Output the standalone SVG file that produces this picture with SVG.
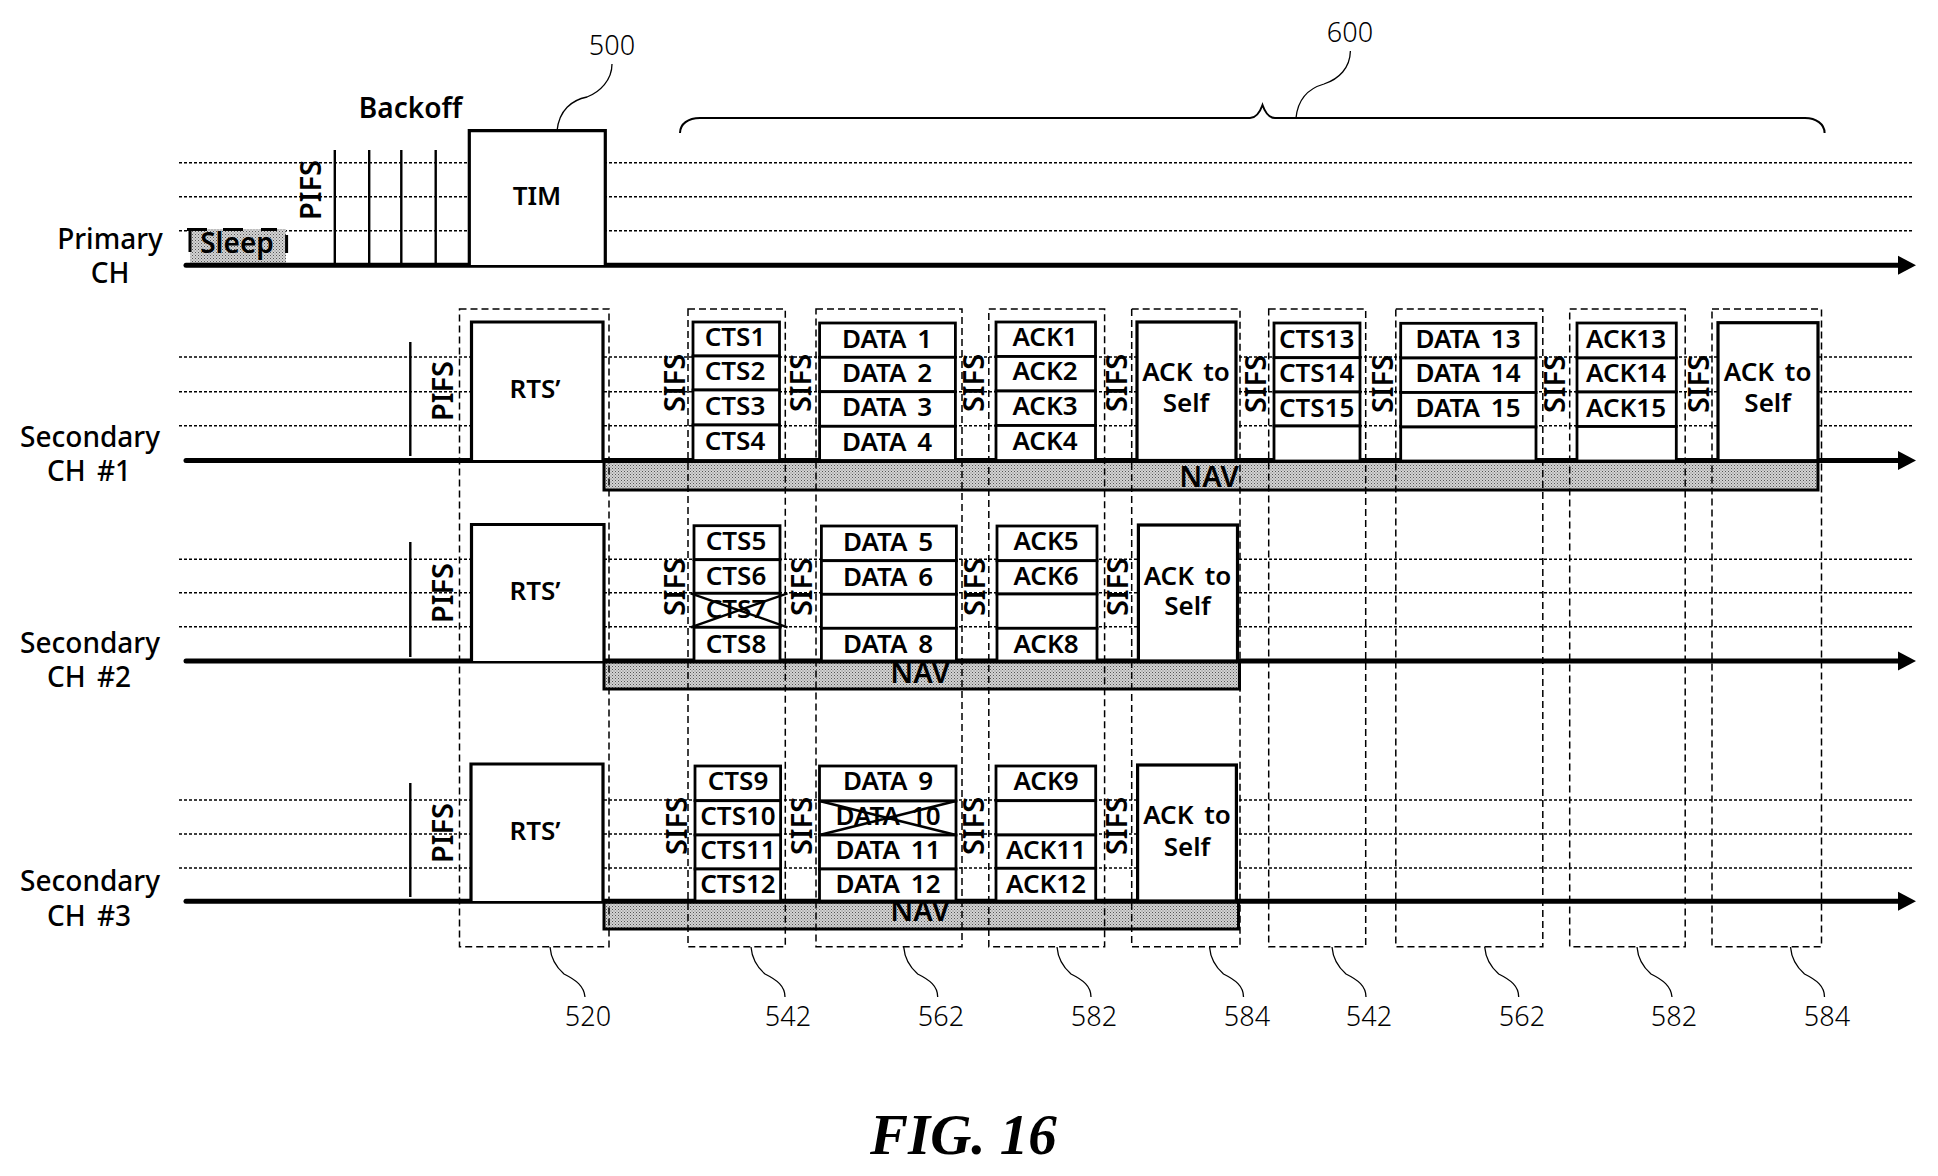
<svg xmlns="http://www.w3.org/2000/svg" width="1938" height="1176" viewBox="0 0 1938 1176">
<style>
text{font-family:"Noto Sans","Open Sans","Liberation Sans",sans-serif;font-size:26px;font-weight:600;fill:#000;text-anchor:middle;word-spacing:4px}
.n{font-size:27px;font-weight:300;word-spacing:0}
.lb{font-size:28px;font-weight:500}
.iv{font-size:29px;word-spacing:0}
.nv{font-size:29px}
.big{font-size:28px}
.fig{font-family:"Liberation Serif",serif;font-size:57px;font-weight:700;font-style:italic;text-anchor:start;word-spacing:0}
.c{fill:#fff;stroke:#000;stroke-width:2.8}
.t{fill:#fff;stroke:#000;stroke-width:3.2}
.dot{stroke:#000;stroke-width:1.5;stroke-dasharray:3 2;fill:none}
.dash{fill:none;stroke:#000;stroke-width:1.5;stroke-dasharray:7 4}
.ax{stroke:#000;stroke-width:5;fill:none;stroke-linecap:round}
.tick{stroke:#000;stroke-width:2.4}
.lead{fill:none;stroke:#000;stroke-width:1.3}
.nav{fill:url(#st);stroke:#000;stroke-width:3}
.x{stroke:#000;stroke-width:2.4}
</style>
<defs>
<pattern id="st" width="3" height="3" patternUnits="userSpaceOnUse"><rect width="3" height="3" fill="#d4d4d4"/><rect width="1" height="1" fill="#555"/><rect x="1.5" y="1.5" width="1" height="1" fill="#777"/></pattern>
<marker id="ah" markerUnits="userSpaceOnUse" markerWidth="20" markerHeight="20" refX="1" refY="10" orient="auto"><path d="M0 0.5L18 10L0 19.5Z" fill="#000"/></marker>
</defs>
<rect width="1938" height="1176" fill="#fff"/>

<g id="grid">
<path class="dot" d="M179 162.7H1914M179 196.7H1914M179 230.7H1914M179 357H1914M179 391.7H1914M179 425.7H1914M179 559.3H1914M179 592.7H1914M179 626.7H1914M179 800H1914M179 834H1914M179 868H1914"/>
</g>

<g id="nav-bars">
<g id="nav1"><rect class="nav" x="604" y="460" width="1214" height="30"/><text class="nv" x="1209" y="487">NAV</text></g>
<g id="nav2"><rect class="nav" x="604" y="661" width="635.5" height="28"/><text class="nv" x="920" y="683">NAV</text></g>
<g id="nav3"><rect class="nav" x="604" y="901" width="634.5" height="28"/><text class="nv" x="920" y="921">NAV</text></g>
</g>

<g id="sleep"><rect x="190" y="229" width="96" height="35" fill="url(#st)"/><path d="M187 229.5H207M223 229.5H243M261 229.5H277M190 228V252M286.6 235V253" fill="none" stroke="#000" stroke-width="3"/><text class="big" x="237" y="253">Sleep</text></g>

<g id="connectors">
<path class="ax" d="M186 265.3H1899" marker-end="url(#ah)"/>
<path class="ax" d="M186 460.5H1899" marker-end="url(#ah)"/>
<path class="ax" d="M186 661H1899" marker-end="url(#ah)"/>
<path class="ax" d="M186 901.3H1899" marker-end="url(#ah)"/>
<path class="tick" d="M334.8 150V265M369.2 150V265M401.3 150V265M435.7 150V265M410.3 342V456M410.3 542V657M410.3 783V897"/>
<path class="lead" d="M557 131C559 110 572 100 587 97C600 92 612 80 612 64"/>
<path class="lead" d="M1296 118C1298 98 1310 88 1324 84C1339 79 1350 68 1350.4 51"/>
<path d="M680 133C680 124 688 118 700 118L1250 118C1256 118 1260 112 1262.5 105C1265 112 1269 118 1275 118L1805 118C1816 118 1824.6 124 1824.6 133" fill="none" stroke="#000" stroke-width="2"/>
<path class="lead" d="M550 947c1 12 6 20 14 27c12 6 20 12 21 23M751 947c1 12 6 20 14 27c12 6 20 12 20 23M903.7 947c1 12 6 20 14 27c12 6 20 12 20 23M1057 947c1 12 6 20 14 27c12 6 20 12 20 23M1209.5 947c1 12 6 20 14 27c12 6 20 12 20 23M1332 947c1 12 6 20 14 27c12 6 20 12 20 23M1484.7 947c1 12 6 20 14 27c12 6 20 12 20 23M1637 947c1 12 6 20 14 27c12 6 20 12 21 23M1790.5 947c1 12 6 20 14 27c12 6 20 12 20 23"/>
</g>

<g id="dashed-groups">
<rect id="g520" class="dash" x="459.5" y="309" width="149.5" height="637.7"/>
<rect id="g542a" class="dash" x="688" y="309" width="97.3" height="637.7"/>
<rect id="g562a" class="dash" x="816" y="309" width="146" height="637.7"/>
<rect id="g582a" class="dash" x="988.8" y="309" width="115.8" height="637.7"/>
<rect id="g584a" class="dash" x="1131.7" y="309" width="108.3" height="637.7"/>
<rect id="g542b" class="dash" x="1268.7" y="309" width="97" height="637.7"/>
<rect id="g562b" class="dash" x="1395.8" y="309" width="147" height="637.7"/>
<rect id="g582b" class="dash" x="1569.7" y="309" width="115.5" height="637.7"/>
<rect id="g584b" class="dash" x="1712" y="309" width="109.5" height="637.7"/>
</g>

<g id="tim"><path class="t" d="M469.3 265V130.7H605.3V265"/><text x="537" y="205">TIM</text></g>

<g id="rts1"><path class="t" d="M471.5 460V322H603V460"/><text x="535" y="398">RTS’</text></g>
<g id="rts2"><path class="t" d="M471.5 661V524.5H604V661"/><text x="535" y="600">RTS’</text></g>
<g id="rts3"><path class="t" d="M471 901V764H603V901"/><text x="535" y="840">RTS’</text></g>

<g id="sec1-cts-a">
<rect class="c" x="693" y="322" width="86.5" height="34"/><text x="735" y="346">CTS1</text>
<rect class="c" x="693" y="356" width="86.5" height="34"/><text x="735" y="380">CTS2</text>
<rect class="c" x="693" y="390" width="86.5" height="35"/><text x="735" y="415">CTS3</text>
<rect class="c" x="693" y="425" width="86.5" height="35.5"/><text x="735" y="449.5">CTS4</text>
</g>
<g id="sec1-data-a">
<rect class="c" x="819.6" y="323" width="135.8" height="34.3"/><text x="887" y="347.7">DATA 1</text>
<rect class="c" x="819.6" y="357.3" width="135.8" height="34.4"/><text x="887" y="382">DATA 2</text>
<rect class="c" x="819.6" y="391.7" width="135.8" height="34.6"/><text x="887" y="416">DATA 3</text>
<rect class="c" x="819.6" y="426.3" width="135.8" height="34.2"/><text x="887" y="450.7">DATA 4</text>
</g>
<g id="sec1-ack-a">
<rect class="c" x="996" y="322" width="99.5" height="34.5"/><text x="1045" y="346">ACK1</text>
<rect class="c" x="996" y="356.5" width="99.5" height="34.5"/><text x="1045" y="380">ACK2</text>
<rect class="c" x="996" y="391" width="99.5" height="34.5"/><text x="1045" y="415">ACK3</text>
<rect class="c" x="996" y="425.5" width="99.5" height="35"/><text x="1045" y="449.5">ACK4</text>
</g>
<g id="sec1-self-a"><rect class="t" x="1137" y="322" width="99" height="138.5"/><text x="1186" y="381">ACK to</text><text x="1186" y="412">Self</text></g>

<g id="sec1-cts-b">
<rect class="c" x="1274" y="323" width="86" height="34.7"/><text x="1316.6" y="347.7">CTS13</text>
<rect class="c" x="1274" y="357.7" width="86" height="34.3"/><text x="1316.6" y="382">CTS14</text>
<rect class="c" x="1274" y="392" width="86" height="34"/><text x="1316.6" y="416.7">CTS15</text>
<rect class="c" x="1274" y="426" width="86" height="35"/>
</g>
<g id="sec1-data-b">
<rect class="c" x="1400.7" y="323.3" width="135.3" height="34.7"/><text x="1468" y="347.7">DATA 13</text>
<rect class="c" x="1400.7" y="358" width="135.3" height="34.5"/><text x="1468" y="382">DATA 14</text>
<rect class="c" x="1400.7" y="392.5" width="135.3" height="34.5"/><text x="1468" y="416.7">DATA 15</text>
<rect class="c" x="1400.7" y="427" width="135.3" height="34"/>
</g>
<g id="sec1-ack-b">
<rect class="c" x="1577" y="323" width="99.3" height="35"/><text x="1626" y="347.7">ACK13</text>
<rect class="c" x="1577" y="358" width="99.3" height="34"/><text x="1626" y="382">ACK14</text>
<rect class="c" x="1577" y="392" width="99.3" height="34.5"/><text x="1626" y="416.7">ACK15</text>
<rect class="c" x="1577" y="426.5" width="99.3" height="34.5"/>
</g>
<g id="sec1-self-b"><rect class="t" x="1718" y="322.7" width="100" height="138"/><text x="1767.6" y="381">ACK to</text><text x="1767.6" y="412">Self</text></g>

<g id="sec2-cts">
<rect class="c" x="694" y="525.7" width="86" height="34"/><text x="736" y="550">CTS5</text>
<rect class="c" x="694" y="559.7" width="86" height="33.6"/><text x="736" y="585">CTS6</text>
<rect class="c" x="694" y="593.3" width="86" height="34"/><text x="736" y="618">CTS7</text>
<rect class="c" x="694" y="627.3" width="86" height="33.7"/><text x="736" y="652.7">CTS8</text>
<path class="x" d="M690.6 593.3L787.5 627.3M690.6 627.3L787.5 593.3"/>
</g>
<g id="sec2-data">
<rect class="c" x="821.4" y="526" width="135" height="34.7"/><text x="888" y="551">DATA 5</text>
<rect class="c" x="821.4" y="560.7" width="135" height="33.6"/><text x="888" y="585.5">DATA 6</text>
<rect class="c" x="821.4" y="594.3" width="135" height="34"/>
<rect class="c" x="821.4" y="628.3" width="135" height="32.7"/><text x="888" y="653">DATA 8</text>
</g>
<g id="sec2-ack">
<rect class="c" x="997" y="526" width="100" height="34.7"/><text x="1046" y="550">ACK5</text>
<rect class="c" x="997" y="560.7" width="100" height="33.3"/><text x="1046" y="585">ACK6</text>
<rect class="c" x="997" y="594" width="100" height="34.3"/>
<rect class="c" x="997" y="628.3" width="100" height="32.7"/><text x="1046" y="653">ACK8</text>
</g>
<g id="sec2-self"><rect class="t" x="1138.4" y="525" width="99.1" height="136"/><text x="1187.5" y="585">ACK to</text><text x="1187.5" y="615">Self</text></g>

<g id="sec3-cts">
<rect class="c" x="695" y="766" width="85.6" height="34.7"/><text x="738" y="790">CTS9</text>
<rect class="c" x="695" y="800.7" width="85.6" height="34.3"/><text x="738" y="825">CTS10</text>
<rect class="c" x="695" y="835" width="85.6" height="34"/><text x="738" y="859">CTS11</text>
<rect class="c" x="695" y="869" width="85.6" height="32"/><text x="738" y="893.3">CTS12</text>
</g>
<g id="sec3-data">
<rect class="c" x="819.5" y="766" width="136.5" height="35"/><text x="888" y="790">DATA 9</text>
<rect class="c" x="819.5" y="801" width="136.5" height="34"/><text x="888" y="825">DATA 10</text>
<rect class="c" x="819.5" y="835" width="136.5" height="34"/><text x="888" y="859">DATA 11</text>
<rect class="c" x="819.5" y="869" width="136.5" height="32"/><text x="888" y="893.3">DATA 12</text>
<path class="x" d="M819.5 801L956 835M819.5 835L956 801"/>
</g>
<g id="sec3-ack">
<rect class="c" x="996" y="766" width="99.7" height="34.7"/><text x="1046" y="790">ACK9</text>
<rect class="c" x="996" y="800.7" width="99.7" height="34.3"/>
<rect class="c" x="996" y="835" width="99.7" height="33.3"/><text x="1046" y="859">ACK11</text>
<rect class="c" x="996" y="868.3" width="99.7" height="32.7"/><text x="1046" y="893.3">ACK12</text>
</g>
<g id="sec3-self"><rect class="t" x="1137.6" y="765" width="98.8" height="136"/><text x="1187" y="824">ACK to</text><text x="1187" y="856">Self</text></g>

<g id="intervals">
<text class="iv" transform="translate(321,190) rotate(-90)">PIFS</text>
<text class="iv" transform="translate(453,391) rotate(-90)">PIFS</text>
<text class="iv" transform="translate(453,593) rotate(-90)">PIFS</text>
<text class="iv" transform="translate(453,833) rotate(-90)">PIFS</text>
<text class="iv" transform="translate(685,383) rotate(-90)">SIFS</text>
<text class="iv" transform="translate(811,383) rotate(-90)">SIFS</text>
<text class="iv" transform="translate(984,383) rotate(-90)">SIFS</text>
<text class="iv" transform="translate(1127,383) rotate(-90)">SIFS</text>
<text class="iv" transform="translate(1266,384) rotate(-90)">SIFS</text>
<text class="iv" transform="translate(1392.5,384) rotate(-90)">SIFS</text>
<text class="iv" transform="translate(1565,384) rotate(-90)">SIFS</text>
<text class="iv" transform="translate(1708.6,384) rotate(-90)">SIFS</text>
<text class="iv" transform="translate(685,587) rotate(-90)">SIFS</text>
<text class="iv" transform="translate(812,587) rotate(-90)">SIFS</text>
<text class="iv" transform="translate(985,587) rotate(-90)">SIFS</text>
<text class="iv" transform="translate(1128,587) rotate(-90)">SIFS</text>
<text class="iv" transform="translate(687,826) rotate(-90)">SIFS</text>
<text class="iv" transform="translate(812,826) rotate(-90)">SIFS</text>
<text class="iv" transform="translate(984,826) rotate(-90)">SIFS</text>
<text class="iv" transform="translate(1127,826) rotate(-90)">SIFS</text>
</g>

<g id="labels">
<text class="big" x="410.5" y="118">Backoff</text>
<text class="lb" x="110" y="249">Primary</text><text class="lb" x="110" y="283">CH</text>
<text class="lb" x="90" y="446.5">Secondary</text><text class="lb" x="89" y="481">CH #1</text>
<text class="lb" x="90" y="653">Secondary</text><text class="lb" x="89" y="687">CH #2</text>
<text class="lb" x="90" y="891">Secondary</text><text class="lb" x="89" y="926">CH #3</text>
<text class="n" x="612" y="55">500</text><text class="n" x="1350" y="41.7">600</text>
<text class="n" x="588" y="1026">520</text><text class="n" x="788" y="1026">542</text><text class="n" x="941" y="1026">562</text><text class="n" x="1094" y="1026">582</text><text class="n" x="1247" y="1026">584</text><text class="n" x="1369" y="1026">542</text><text class="n" x="1522" y="1026">562</text><text class="n" x="1674" y="1026">582</text><text class="n" x="1827" y="1026">584</text>
<text class="fig" x="870" y="1154">FIG. 16</text>
</g>
</svg>
